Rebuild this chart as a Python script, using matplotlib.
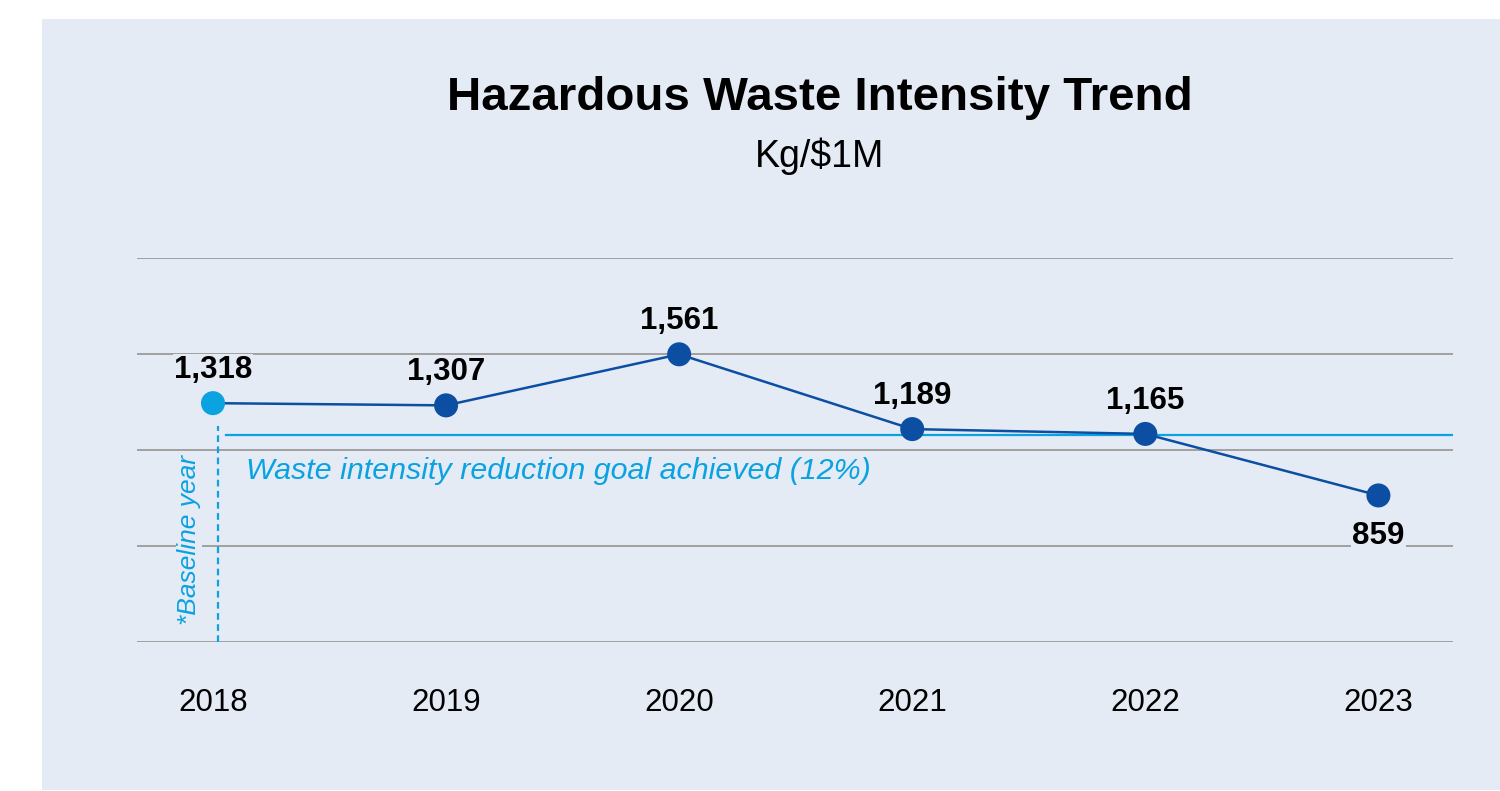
import numpy as np
import matplotlib
matplotlib.use("Agg")
import matplotlib.pyplot as plt
import matplotlib.transforms as mtransforms
from matplotlib.patches import Rectangle

years = ['2018', '2019', '2020', '2021', '2022', '2023']
intensity = [1318, 1307, 1561, 1189, 1165, 859]
value_labels = ['1,318', '1,307', '1,561', '1,189', '1,165', '859']
goal = 1318 * 0.88  # 12% reduction from the 2018 baseline

plt.rcParams['font.family'] = ['Liberation Sans', 'DejaVu Sans']

panel = '#e4ebf5'
dark = '#0b4ea2'
light = '#0aa2e0'
gridc = '#9b9b9b'

W, H = 1500, 791
fig = plt.figure(figsize=(W / 100, H / 100), dpi=100)
fig.patch.set_facecolor('white')
fig.patches.append(Rectangle((42 / W, 1 / H), 1 - 42 / W, 1 - 20 / H,
                             transform=fig.transFigure, facecolor=panel,
                             edgecolor='none', zorder=-10))

ax = fig.add_axes([137 / W, 1 - 642 / H, (1453 - 137) / W, (642 - 258) / H])
ax.set_zorder(1)
ax.set_facecolor('none')
x = np.arange(len(years))
ymin, ymax = 130, 2040
ax.set_xlim(-0.326, 5.32)
ax.set_ylim(ymin, ymax)
ax.set_yticks(np.linspace(ymin, ymax, 5))
ax.grid(axis='y', color=gridc, lw=1.3, zorder=0)
for s in ax.spines.values():
    s.set_visible(False)
ax.tick_params(axis='y', left=False, labelleft=False)
ax.set_xticks(x, years)
ax.tick_params(axis='x', length=0, pad=33, labelsize=22.5)

# goal line and baseline marker
ax.axhline(goal, xmin=(226 - 137) / 1316, xmax=1, color=light, lw=1.6, zorder=2)
ax.axvline(x[0] + 0.02, ymin=0, ymax=(642 - 426) / 384, color=light, lw=1.6,
           ls=(0, (3, 2)), zorder=2)

trans = mtransforms.blended_transform_factory(ax.transData, ax.transAxes)
ax.text(x[0] - 0.103, 0.266, '*Baseline year', rotation=90, transform=trans,
        ha='center', va='center', fontsize=19, style='italic', color=light,
        bbox=dict(facecolor=panel, edgecolor='none', pad=1), zorder=3)
ax.annotate('Waste intensity reduction goal achieved (12%)', (x[0] + 0.142, goal),
            xytext=(0, -26), textcoords='offset points', ha='left', va='center',
            fontsize=21.9, style='italic', color=light, zorder=3)

# series
ax.plot(x, intensity, color=dark, lw=1.8, zorder=4)
colors = [light] + [dark] * (len(x) - 1)
ax.scatter(x, intensity, s=17.3 ** 2, c=colors, zorder=5, linewidths=0)

for i, (xi, v, lab) in enumerate(zip(x, intensity, value_labels)):
    dy = -35 if i == len(x) - 1 else 18
    ax.annotate(lab, (xi, v), xytext=(0, dy), textcoords='offset points',
                ha='center', va='baseline', fontsize=22.5, fontweight='bold',
                color='black', zorder=6,
                bbox=dict(facecolor=panel, edgecolor='none', pad=1))

fig.text(820 / W, 1 - 110 / H, 'Hazardous Waste Intensity Trend', ha='center',
         va='baseline', fontsize=34.2, fontweight='bold')
fig.text(820 / W, 1 - 167 / H, 'Kg/$1M', ha='center', va='baseline', fontsize=27)

fig.savefig('out.png', dpi=100, facecolor=fig.get_facecolor())
